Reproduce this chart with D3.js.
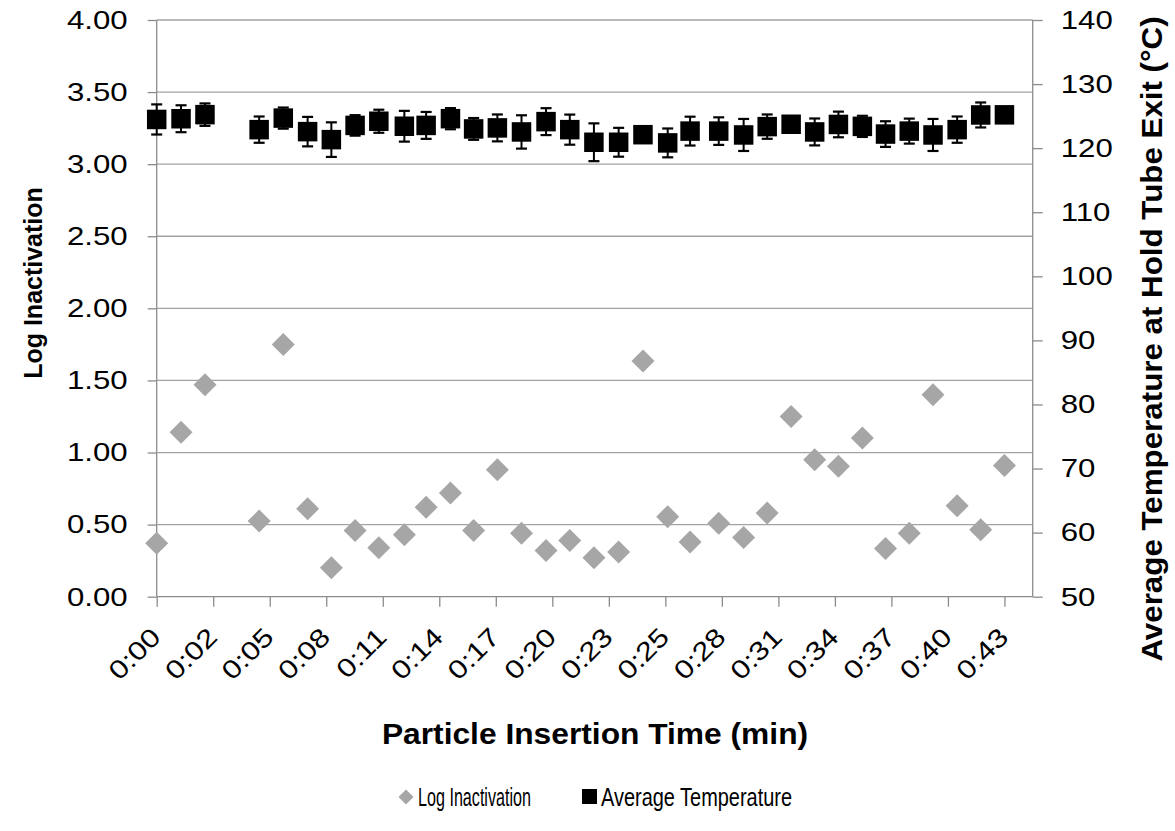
<!DOCTYPE html>
<html>
<head>
<meta charset="utf-8">
<script src="https://cdn.jsdelivr.net/npm/d3@7"></script>
<style>
  html, body { margin: 0; padding: 0; background: #fff; }
  svg text { font-family: "Liberation Sans", Arial, sans-serif; fill: #000; }
</style>
</head>
<body>
<svg id="chart" width="1175" height="831"></svg>
<script>
// ---- Data (times in minutes) ----
const times = [0, 1.24, 2.46, 5.22, 6.45, 7.69, 8.90, 10.11, 11.32, 12.62, 13.73, 14.97, 16.15, 17.36, 18.59, 19.84, 21.05, 22.28, 23.54, 24.78, 26.04, 27.18, 28.64, 29.91, 31.11, 32.33, 33.53, 34.74, 35.96, 37.14, 38.35, 39.56, 40.79, 41.99, 43.2];
const logInactivation = [0.37, 1.14, 1.47, 0.525, 1.75, 0.61, 0.20, 0.46, 0.34, 0.43, 0.62, 0.72, 0.46, 0.88, 0.44, 0.32, 0.39, 0.27, 0.31, 1.635, 0.555, 0.38, 0.51, 0.41, 0.58, 1.25, 0.95, 0.905, 1.10, 0.335, 0.44, 1.40, 0.63, 0.465, 0.91];
const avgTemperature = [124.48, 124.59, 125.23, 122.89, 124.69, 122.58, 121.33, 123.55, 124.2, 123.42, 123.55, 124.6, 123.0, 123.16, 122.53, 124.14, 122.89, 120.92, 120.92, 122.1, 120.82, 122.66, 122.66, 122.06, 123.36, 123.73, 122.53, 123.7, 123.4, 122.2, 122.66, 122.06, 122.89, 125.18, 125.2];
const tempError = [2.35, 2.1, 1.75, 2.05, 1.65, 2.3, 2.7, 1.6, 1.8, 2.4, 2.1, 1.65, 1.7, 2.1, 2.6, 2.1, 2.35, 2.95, 2.25, 1.2, 2.25, 2.25, 2.15, 2.5, 1.9, 1.2, 2.1, 2.0, 1.65, 2.0, 1.95, 2.5, 2.05, 1.95, 1.2];
const xTickValues = [0, 2.88, 5.76, 8.64, 11.52, 14.4, 17.28, 20.16, 23.04, 25.92, 28.8, 31.68, 34.56, 37.44, 40.32, 43.2];
const xTickLabels = ["0:00", "0:02", "0:05", "0:08", "0:11", "0:14", "0:17", "0:20", "0:23", "0:25", "0:28", "0:31", "0:34", "0:37", "0:40", "0:43"];
const xDomain = [0, 44.64];
const leftDomain = [0, 4];
const leftTicks = [0, 0.5, 1, 1.5, 2, 2.5, 3, 3.5, 4];
const rightDomain = [50, 140];
const rightTicks = [50, 60, 70, 80, 90, 100, 110, 120, 130, 140];
const seriesNames = ["Log Inactivation", "Average Temperature"];
const titles = { x: "Particle Insertion Time (min)", left: "Log Inactivation", right: "Average Temperature at Hold Tube Exit (°C)" };

// ---- Layout ----
const L = 156.7, R = 1032.7, T = 20, B = 596.7;
const svg = d3.select("#chart");
const x = d3.scaleLinear().domain(xDomain).range([L, R]);
const yL = d3.scaleLinear().domain(leftDomain).range([B, T]);
const yR = d3.scaleLinear().domain(rightDomain).range([B, T]);

const gridColor = "#a3a3a3", axisColor = "#8c8c8c";
const wide = 1.2; // the reference's tick font is wider than Liberation Sans

// gridlines
svg.append("g").selectAll("line").data(leftTicks.filter(d => d > 0)).join("line")
  .attr("x1", L).attr("x2", R).attr("y1", d => yL(d)).attr("y2", d => yL(d))
  .attr("stroke", gridColor).attr("stroke-width", 1.3);

// axes
const gLeft = svg.append("g").attr("transform", `translate(${L},0)`)
  .call(d3.axisLeft(yL).tickValues(leftTicks).tickFormat(d3.format(".2f")).tickSize(9));
const gRight = svg.append("g").attr("transform", `translate(${R},0)`)
  .call(d3.axisRight(yR).tickValues(rightTicks).tickSize(10));
const gBottom = svg.append("g").attr("transform", `translate(0,${B})`)
  .call(d3.axisBottom(x).tickValues(xTickValues).tickFormat((d, i) => xTickLabels[i]).tickSize(10));

[gLeft, gRight, gBottom].forEach(g => {
  g.select(".domain").attr("stroke", axisColor).attr("stroke-width", 1.3);
  g.selectAll(".tick line").attr("stroke", axisColor).attr("stroke-width", 1.3);
  g.selectAll("text").attr("font-size", 26).attr("fill", "#000")
    .style("font-family", "'Liberation Sans', Arial, sans-serif");
});
gBottom.select(".domain").attr("d", `M${L},0H${R}`);
gLeft.select(".domain").attr("d", `M0,${B}V${T}`);
gRight.select(".domain").attr("d", `M0,${B}V${T}`);

gLeft.selectAll(".tick text").attr("x", 0).attr("transform", `translate(-29,0) scale(${wide},1)`);
gRight.selectAll(".tick text").attr("x", 0).attr("transform", `translate(28,0) scale(${wide},1)`);
gBottom.selectAll(".tick text")
  .attr("text-anchor", "end")
  .attr("y", 0).attr("dy", 0)
  .attr("transform", `translate(5,42) rotate(-45) scale(${wide},1)`);

// error bars
const idx = times.map((t, i) => i);
const eb = svg.append("g").selectAll("g").data(idx).join("g");
eb.append("line")
  .attr("x1", i => x(times[i])).attr("x2", i => x(times[i]))
  .attr("y1", i => yR(avgTemperature[i] + tempError[i]))
  .attr("y2", i => yR(avgTemperature[i] - tempError[i]))
  .attr("stroke", "#000").attr("stroke-width", 2);
[1, -1].forEach(s => {
  eb.append("line")
    .attr("x1", i => x(times[i]) - 5.5).attr("x2", i => x(times[i]) + 5.5)
    .attr("y1", i => yR(avgTemperature[i] + s * tempError[i]))
    .attr("y2", i => yR(avgTemperature[i] + s * tempError[i]))
    .attr("stroke", "#000").attr("stroke-width", 2.2);
});

// temperature squares
const sq = 19.5;
svg.append("g").selectAll("rect").data(idx).join("rect")
  .attr("x", i => x(times[i]) - sq / 2).attr("y", i => yR(avgTemperature[i]) - sq / 2)
  .attr("width", sq).attr("height", sq).attr("fill", "#000");

// diamonds
const diamond = (cx, cy, r) => `M${cx},${cy - r}L${cx + r},${cy}L${cx},${cy + r}L${cx - r},${cy}Z`;
svg.append("g").selectAll("path").data(idx).join("path")
  .attr("d", i => diamond(x(times[i]), yL(logInactivation[i]), 11.5))
  .attr("fill", "#a6a6a6");

// axis titles
svg.append("text").text(titles.left)
  .attr("transform", `translate(42,283) rotate(-90)`)
  .attr("text-anchor", "middle").attr("font-size", 25).attr("font-weight", "bold");
svg.append("text").text(titles.right)
  .attr("transform", `translate(1162,339) rotate(-90) scale(1.08,1)`)
  .attr("text-anchor", "middle").attr("font-size", 29).attr("font-weight", "bold");
svg.append("text").text(titles.x)
  .attr("transform", `translate(595,744) scale(1.095,1)`)
  .attr("text-anchor", "middle").attr("font-size", 29).attr("font-weight", "bold");

// legend
const lg = svg.append("g");
lg.append("path").attr("d", diamond(406, 797, 7.5)).attr("fill", "#a6a6a6");
lg.append("text").text(seriesNames[0]).attr("x", 418).attr("y", 806).attr("font-size", 26)
  .attr("textLength", 113).attr("lengthAdjust", "spacingAndGlyphs");
lg.append("rect").attr("x", 582).attr("y", 789).attr("width", 15).attr("height", 15).attr("fill", "#000");
lg.append("text").text(seriesNames[1]).attr("x", 601).attr("y", 806).attr("font-size", 26)
  .attr("textLength", 191).attr("lengthAdjust", "spacingAndGlyphs");
</script>
</body>
</html>
